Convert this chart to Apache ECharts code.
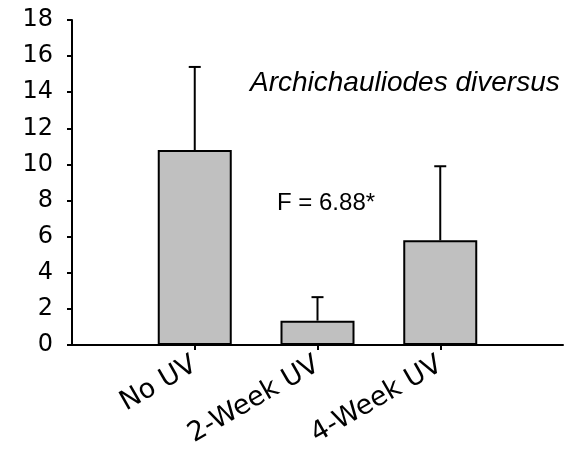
<!DOCTYPE html>
<html>
<head>
<meta charset="utf-8">
<script src="https://cdn.jsdelivr.net/npm/echarts@6/dist/echarts.min.js"></script>
<style>
  html, body { margin: 0; padding: 0; background: #fff; }
  #main { width: 567px; height: 455px; }
</style>
</head>
<body>
<div id="main"></div>
<script>
// categories (empty slots at both ends keep the Excel spacing)
var categories = ['', 'No UV', '2-Week UV', '4-Week UV', ''];
var means = ['-', 10.8, 1.35, 5.8, '-'];
var errUp = ['-', 4.6, 1.3, 4.1, '-'];
var yTicks = [0, 2, 4, 6, 8, 10, 12, 14, 16, 18];
var speciesName = 'Archichauliodes diversus';
var statText = 'F = 6.88*';

var fontName = 'DejaVu Sans';
var textFont = 'Liberation Sans';

// error bar data: [index, mean, mean + err]
var errData = [];
for (var i = 0; i < means.length; i++) {
    if (means[i] !== '-') {
        errData.push([i, means[i], means[i] + errUp[i]]);
    }
}

var myChart = echarts.init(document.getElementById('main'));

var option = {
    animation: false,
    backgroundColor: '#fff',
    grid: { left: 72, right: 4, top: 20, bottom: 110 },
    title: [
        {
            text: speciesName,
            left: 245, top: 64,
            textStyle: { fontFamily: textFont, fontStyle: 'italic', fontWeight: 'normal', fontSize: 28, color: '#000' }
        },
        {
            text: statText,
            left: 272, top: 186,
            textStyle: { fontFamily: textFont, fontWeight: 'normal', fontSize: 24, color: '#000' }
        }
    ],
    xAxis: {
        type: 'category',
        data: categories,
        boundaryGap: false,
        axisLine: { lineStyle: { color: '#000', width: 2 } },
        axisTick: {
            length: 5,
            lineStyle: { color: '#000', width: 2 },
            interval: function (index) { return index > 0 && index < categories.length - 1; }
        },
        axisLabel: {
            rotate: 30,
            margin: 18,
            interval: 0,
            fontFamily: fontName,
            fontSize: 27,
            color: '#000'
        },
        splitLine: { show: false }
    },
    yAxis: {
        type: 'value',
        min: yTicks[0],
        max: yTicks[yTicks.length - 1],
        interval: 2,
        axisLine: { show: true, lineStyle: { color: '#000', width: 2 } },
        axisTick: { show: true, length: 5, lineStyle: { color: '#000', width: 2 } },
        axisLabel: { margin: 19, fontFamily: fontName, fontSize: 24, color: '#000' },
        splitLine: { show: false }
    },
    series: [
        {
            type: 'bar',
            data: means,
            barWidth: 74,
            itemStyle: { color: '#c0c0c0', borderColor: '#000', borderWidth: 2 },
            z: 2
        },
        {
            type: 'custom',
            data: errData,
            z: 3,
            renderItem: function (params, api) {
                var base = api.coord([api.value(0), api.value(1)]);
                var top = api.coord([api.value(0), api.value(2)]);
                var cap = 6;
                var style = { stroke: '#000', lineWidth: 2 };
                return {
                    type: 'group',
                    children: [
                        { type: 'line', shape: { x1: base[0], y1: base[1], x2: top[0], y2: top[1] }, style: style },
                        { type: 'line', shape: { x1: top[0] - cap, y1: top[1], x2: top[0] + cap, y2: top[1] }, style: style }
                    ]
                };
            }
        }
    ]
};

myChart.setOption(option);
</script>
</body>
</html>
